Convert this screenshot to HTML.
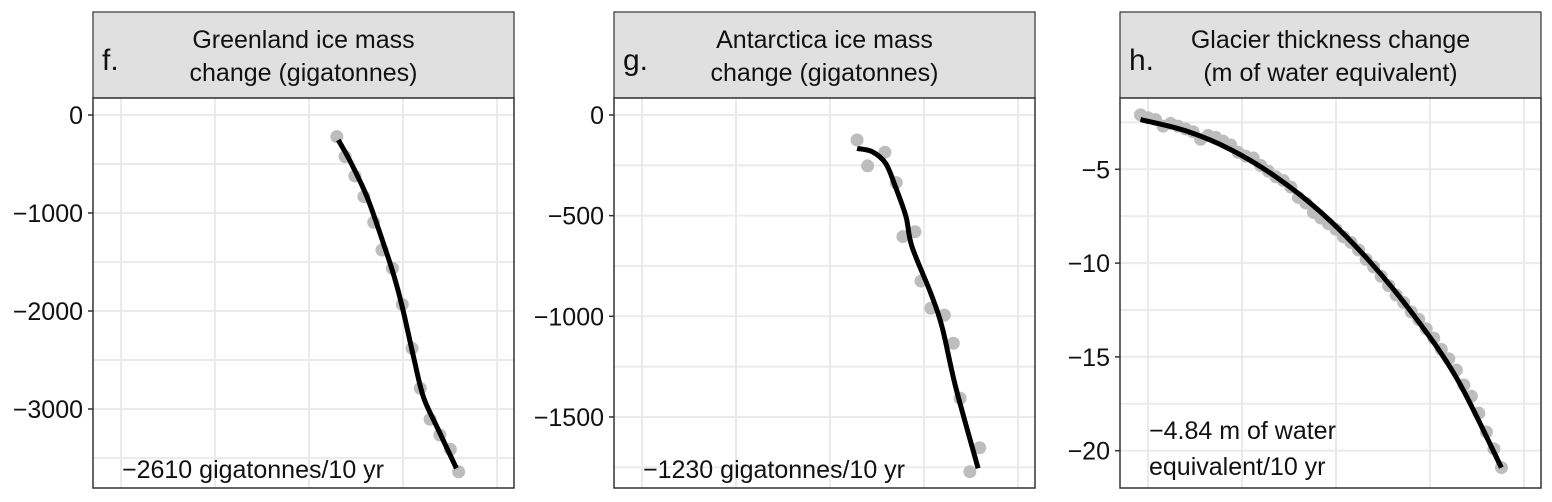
<!DOCTYPE html>
<html><head><meta charset="utf-8">
<style>
html,body{margin:0;padding:0;background:#fff;}
svg{display:block;font-family:"Liberation Sans",Arial,sans-serif;}
</style></head>
<body>
<svg id="chart" width="1552" height="502" viewBox="0 0 1552 502"></svg>
<script>
// ---- Panel f: Greenland ----
const greenlandYears = [2003.7,2004.8,2006.1,2007.3,2008.6,2009.7,2011.1,2012.4,2013.7,2014.8,2016.1,2017.4,2018.8,2019.9];
const greenlandValues = [-221,-425,-622,-833,-1095,-1378,-1565,-1932,-2381,-2789,-3105,-3265,-3412,-3640];
const greenlandFitYears = [2003.9,2005.5,2007.7,2009.9,2011.4,2012.5,2013.9,2015.2,2017.0,2019.6];
const greenlandFitValues = [-255,-476,-833,-1310,-1667,-1990,-2466,-2874,-3180,-3605];
const greenlandTicks = [0,-1000,-2000,-3000];
const greenlandTickLabels = ["0","\u22121000","\u22122000","\u22123000"];
// ---- Panel g: Antarctica ----
const antarcticaYears = [2003.6,2005.0,2007.3,2008.8,2009.7,2011.3,2012.1,2013.4,2015.2,2016.4,2017.3,2018.6,2019.9];
const antarcticaValues = [-124,-253,-185,-336,-604,-580,-825,-960,-994,-1134,-1407,-1772,-1653];
const antarcticaFitYears = [2003.6,2005.6,2007.4,2008.7,2010.1,2010.9,2013.4,2014.9,2016.7,2019.7];
const antarcticaFitValues = [-166,-182,-240,-356,-505,-654,-886,-1052,-1350,-1755];
const antarcticaTicks = [0,-500,-1000,-1500];
const antarcticaTickLabels = ["0","\u2212500","\u22121000","\u22121500"];
// ---- Panel h: Glaciers ----
const glacierYears = [1974,1975,1976,1977,1978,1979,1980,1981,1982,1983,1984,1985,1986,1987,1988,1989,1990,1991,1992,1993,1994,1995,1996,1997,1998,1999,2000,2001,2002,2003,2004,2005,2006,2007,2008,2009,2010,2011,2012,2013,2014,2015,2016,2017,2018,2019,2020,2021,2022];
const glacierValues = [-2.1,-2.25,-2.35,-2.7,-2.55,-2.7,-2.85,-3.0,-3.4,-3.2,-3.3,-3.5,-3.7,-4.1,-4.3,-4.4,-4.8,-5.1,-5.4,-5.6,-5.95,-6.5,-6.8,-7.3,-7.6,-7.9,-8.2,-8.6,-8.9,-9.3,-9.8,-10.2,-10.7,-11.2,-11.7,-12.1,-12.6,-13.0,-13.5,-14.0,-14.6,-15.1,-15.7,-16.5,-17.1,-18.0,-19.0,-19.9,-20.9];
const glacierFitYears = [1974,1980,1986,1992,1998,2004,2010,2016,2022];
const glacierFitValues = [-2.35,-2.95,-3.95,-5.4,-7.3,-9.7,-12.6,-16.1,-20.9];
const glacierTicks = [-5,-10,-15,-20];
const glacierTickLabels = ["\u22125","\u221210","\u221215","\u221220"];

const NS = "http://www.w3.org/2000/svg";
const svg = document.getElementById('chart');
function mk(tag, attrs, parent){
  const e = document.createElementNS(NS, tag);
  for (const k in attrs) e.setAttribute(k, attrs[k]);
  (parent||svg).appendChild(e);
  return e;
}
const gridYears = [1975,1987.5,2000,2012.5,2025];
const PX_PER_YEAR = 7.52;
const TOP = 98, BOTTOM = 488, STRIP_TOP = 12, W = 421;

function spline(pts){
  let d = "M" + pts[0][0].toFixed(1) + "," + pts[0][1].toFixed(1);
  for (let i=0;i<pts.length-1;i++){
    const p0 = pts[Math.max(0,i-1)], p1 = pts[i], p2 = pts[i+1], p3 = pts[Math.min(pts.length-1,i+2)];
    const c1x = p1[0]+(p2[0]-p0[0])/6, c1y = p1[1]+(p2[1]-p0[1])/6;
    const c2x = p2[0]-(p3[0]-p1[0])/6, c2y = p2[1]-(p3[1]-p1[1])/6;
    d += " C"+c1x.toFixed(1)+","+c1y.toFixed(1)+" "+c2x.toFixed(1)+","+c2y.toFixed(1)+" "+p2[0].toFixed(1)+","+p2[1].toFixed(1);
  }
  return d;
}

function panel(cfg){
  const L = cfg.left, R = L + W;
  const g = mk('g', {});
  
  
  const x = yr => L + 28 + (yr - 1975) * PX_PER_YEAR;
  const y = v => cfg.y0 + (cfg.yTop - v) * cfg.yScale;
  const strip = mk('rect', {x:L, y:STRIP_TOP, width:W, height:TOP-STRIP_TOP, fill:'#e0e0e0', stroke:'#333', 'stroke-width':1.2}, g);
  
  
  const letter = mk('text', {x:L+9, y:70, 'font-size':30, fill:'#111'}, g);
  letter.textContent = cfg.letter;
  
  
  cfg.title.forEach((t,i)=>{
    const tt = mk('text', {x:L+W/2, y:48+i*33, 'font-size':25, 'text-anchor':'middle', fill:'#111'}, g);
    tt.textContent = t;
    
    
  });
  mk('rect', {x:L, y:TOP, width:W, height:BOTTOM-TOP, fill:'#fff'}, g);
  gridYears.forEach(yr=>{
    const gl = mk('line', {x1:x(yr), x2:x(yr), y1:TOP, y2:BOTTOM, stroke:'#ebebeb', 'stroke-width':2}, g);
    
    
  });
  cfg.grid.forEach(v=>{
    const gl = mk('line', {x1:L, x2:R, y1:y(v), y2:y(v), stroke:'#ebebeb', 'stroke-width':2}, g);
    
    
  });
  cfg.ticks.forEach((v,i)=>{
    mk('line', {x1:L-5, x2:L, y1:y(v), y2:y(v), stroke:'#333', 'stroke-width':1.5}, g);
    const tl = mk('text', {x:L-10, y:y(v)+9, 'font-size':25, 'text-anchor':'end', fill:'#111'}, g);
    tl.textContent = cfg.tickLabels[i];
    
    
  });
  cfg.years.forEach((yr,i)=>{
    const c = mk('circle', {cx:x(yr), cy:y(cfg.values[i]), r:6.5, fill:'#bdbdbd'}, g);
    
    
  });
  const pts = cfg.fitYears.map((yr,i)=>[x(yr), y(cfg.fitValues[i])]);
  const p = mk('path', {d:spline(pts), fill:'none', stroke:'#000', 'stroke-width':5, 'stroke-linejoin':'round'}, g);
  
  
  cfg.note.forEach((t,i)=>{
    const n = mk('text', {x:L+29, y:cfg.noteY + i*36, 'font-size':25, fill:'#111'}, g);
    n.textContent = t;
    
    
  });
  const fr = mk('rect', {x:L, y:TOP, width:W, height:BOTTOM-TOP, fill:'none', stroke:'#333', 'stroke-width':1.5}, g);
  
  
}

panel({name:'greenland', left:93, letter:'f.', title:['Greenland ice mass','change (gigatonnes)'],
  y0:115, yTop:0, yScale:0.098, ticks:greenlandTicks, tickLabels:greenlandTickLabels,
  grid:[0,-500,-1000,-1500,-2000,-2500,-3000,-3500],
  years:greenlandYears, values:greenlandValues, fitYears:greenlandFitYears, fitValues:greenlandFitValues,
  note:['\u22122610 gigatonnes/10 yr'], noteY:478});
panel({name:'antarctica', left:614, letter:'g.', title:['Antarctica ice mass','change (gigatonnes)'],
  y0:115, yTop:0, yScale:0.2013, ticks:antarcticaTicks, tickLabels:antarcticaTickLabels,
  grid:[0,-250,-500,-750,-1000,-1250,-1500,-1750],
  years:antarcticaYears, values:antarcticaValues, fitYears:antarcticaFitYears, fitValues:antarcticaFitValues,
  note:['\u22121230 gigatonnes/10 yr'], noteY:478});
panel({name:'glacier', left:1120, letter:'h.', title:['Glacier thickness change','(m of water equivalent)'],
  y0:75.5, yTop:0, yScale:18.76, ticks:glacierTicks, tickLabels:glacierTickLabels,
  grid:[-2.5,-5,-7.5,-10,-12.5,-15,-17.5,-20],
  years:glacierYears, values:glacierValues, fitYears:glacierFitYears, fitValues:glacierFitValues,
  note:['\u22124.84 m of water','equivalent/10 yr'], noteY:439});
</script>
</body></html>
